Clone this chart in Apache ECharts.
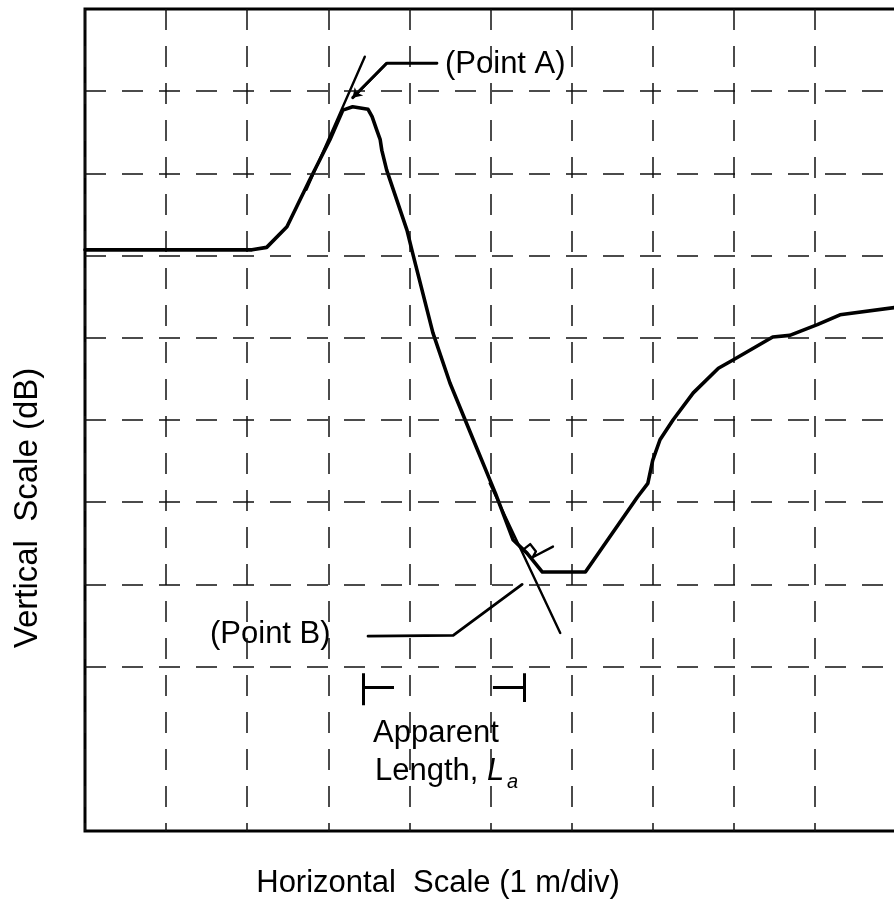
<!DOCTYPE html>
<html>
<head>
<meta charset="utf-8">
<title>Apparent length from the trace</title>
<script src="https://cdn.jsdelivr.net/npm/echarts@6/dist/echarts.min.js"></script>
<style>
  html, body { margin: 0; padding: 0; background: #fff; }
  #chart { width: 894px; height: 906px; }
</style>
</head>
<body>
<div id="chart"></div>
<script>
// Trace, in screen divisions (x: 1 m/div, y: dB/div)
var traceX = [0, 2.06, 2.24, 2.49, 2.77, 3.02, 3.18, 3.30, 3.49, 3.54, 3.60, 3.64, 3.66, 3.72,
              3.97, 4.04, 4.29, 4.50, 4.83, 5.06, 5.28, 5.45, 5.64, 6.17, 6.81, 6.94, 7.00,
              7.09, 7.25, 7.50, 7.81, 7.99, 8.48, 8.69, 9.03, 9.31, 10.0];
var traceY = [7.07, 7.07, 7.10, 7.35, 7.92, 8.41, 8.77, 8.81, 8.78, 8.69, 8.52, 8.41, 8.28, 8.04,
              7.31, 7.03, 6.06, 5.45, 4.66, 4.11, 3.54, 3.38, 3.15, 3.15, 4.06, 4.23, 4.51,
              4.76, 5.00, 5.33, 5.63, 5.73, 6.01, 6.03, 6.16, 6.28, 6.37];

// Tangent on the rising edge and on the falling edge
var tangentAX = [3.45, 2.73];
var tangentAY = [9.42, 7.80];
var tangentBX = [4.99, 5.86];
var tangentBY = [4.23, 2.41];

// Right-angle mark where the falling tangent meets the floor
var squareX = [5.40, 5.49, 5.56, 5.52, 5.77];
var squareY = [3.42, 3.49, 3.40, 3.33, 3.46];

// Leaders from the point labels
var leaderAX = [4.34, 3.72, 3.30];
var leaderAY = [9.34, 9.34, 8.92];
var leaderBX = [3.49, 4.54, 5.39];
var leaderBY = [2.37, 2.38, 3.00];

// Apparent length brackets: [x0, y0, x1, y1]
var bracketSegs = [
  [3.43, 1.92, 3.43, 1.53],
  [3.43, 1.75, 3.81, 1.75],
  [5.41, 1.92, 5.41, 1.57],
  [5.03, 1.75, 5.41, 1.75]
];

// Horizontal division lines that are drawn
var hLevels = [2, 3, 4, 5, 6, 7, 8, 9];

var FONT = '"Liberation Sans", Arial, Helvetica, sans-serif';
var INK = '#000';

function zip(xs, ys) {
  return xs.map(function (x, i) { return [x, ys[i]]; });
}

function plainLine(xs, ys, width) {
  return {
    type: 'line',
    data: zip(xs, ys),
    showSymbol: false,
    symbol: 'none',
    silent: true,
    z: 3,
    lineStyle: { color: INK, width: width, cap: 'round', join: 'round' }
  };
}

var gridDash = { color: '#111', width: 1.5, type: [21, 16] };

var chart = echarts.init(document.getElementById('chart'), null, { renderer: 'canvas' });

var traceSeries = plainLine(traceX, traceY, 3.6);
traceSeries.markLine = {
  silent: true,
  symbol: 'none',
  label: { show: false },
  lineStyle: gridDash,
  animation: false,
  data: hLevels.map(function (v) { return { yAxis: v }; })
};

var n = leaderAX.length;

chart.setOption({
  backgroundColor: '#fff',
  animation: false,
  grid: {
    left: 85, top: 9, width: 811, height: 822,
    show: true, borderColor: INK, borderWidth: 3,
    backgroundColor: 'transparent',
    outerBoundsMode: 'none'
  },
  xAxis: {
    type: 'value', min: 0, max: 10, interval: 1,
    axisLine: { show: false }, axisTick: { show: false }, axisLabel: { show: false },
    splitLine: { show: true, lineStyle: gridDash }
  },
  yAxis: {
    type: 'value', min: 0, max: 10, interval: 1,
    axisLine: { show: false }, axisTick: { show: false }, axisLabel: { show: false },
    splitLine: { show: false }
  },
  series: [
    traceSeries,
    plainLine(tangentAX, tangentAY, 2.4),
    plainLine(tangentBX, tangentBY, 2.4),
    plainLine(squareX, squareY, 2.4),
    plainLine(leaderAX, leaderAY, 2.8),
    plainLine(leaderBX, leaderBY, 2.8),
    {
      type: 'lines',
      coordinateSystem: 'cartesian2d',
      silent: true,
      z: 3,
      symbol: ['none', 'arrow'],
      symbolSize: 9,
      lineStyle: { color: INK, width: 2.8, opacity: 1, curveness: 0 },
      data: [{ coords: [[leaderAX[n - 2], leaderAY[n - 2]], [leaderAX[n - 1], leaderAY[n - 1]]] }]
    },
    {
      type: 'lines',
      coordinateSystem: 'cartesian2d',
      silent: true,
      z: 3,
      symbol: 'none',
      lineStyle: { color: INK, width: 3, opacity: 1, curveness: 0 },
      data: bracketSegs.map(function (s) { return { coords: [[s[0], s[1]], [s[2], s[3]]] }; })
    }
  ],
  graphic: [
    {
      type: 'text', left: 445, top: 66 - 17, silent: true,
      style: { text: '(Point A)', font: '31px ' + FONT, fill: INK }
    },
    {
      type: 'text', left: 210, top: 636 - 17, silent: true,
      style: { text: '(Point B)', font: '31px ' + FONT, fill: INK }
    },
    {
      type: 'text', left: 373, top: 735 - 17, silent: true,
      style: { text: 'Apparent', font: '31px ' + FONT, fill: INK }
    },
    {
      type: 'text', left: 375, top: 773 - 17, silent: true,
      style: {
        text: '{n|Length, }{i|L}',
        rich: {
          n: { font: '31px ' + FONT, fill: INK },
          i: { font: 'italic 31px ' + FONT, fill: INK }
        }
      }
    },
    {
      type: 'text', left: 507, top: 783 - 11, silent: true,
      style: { text: 'a', font: 'italic 20px ' + FONT, fill: INK }
    },
    {
      type: 'text', x: 438, y: 883, silent: true,
      style: { text: 'Horizontal  Scale (1 m/div)', font: '31px ' + FONT, fill: INK,
               align: 'center', verticalAlign: 'middle' }
    },
    {
      type: 'text', x: 28, y: 508, rotation: Math.PI / 2, silent: true,
      style: { text: 'Vertical  Scale (dB)', font: '33px ' + FONT, fill: INK,
               align: 'center', verticalAlign: 'middle' }
    }
  ]
});
</script>
</body>
</html>
